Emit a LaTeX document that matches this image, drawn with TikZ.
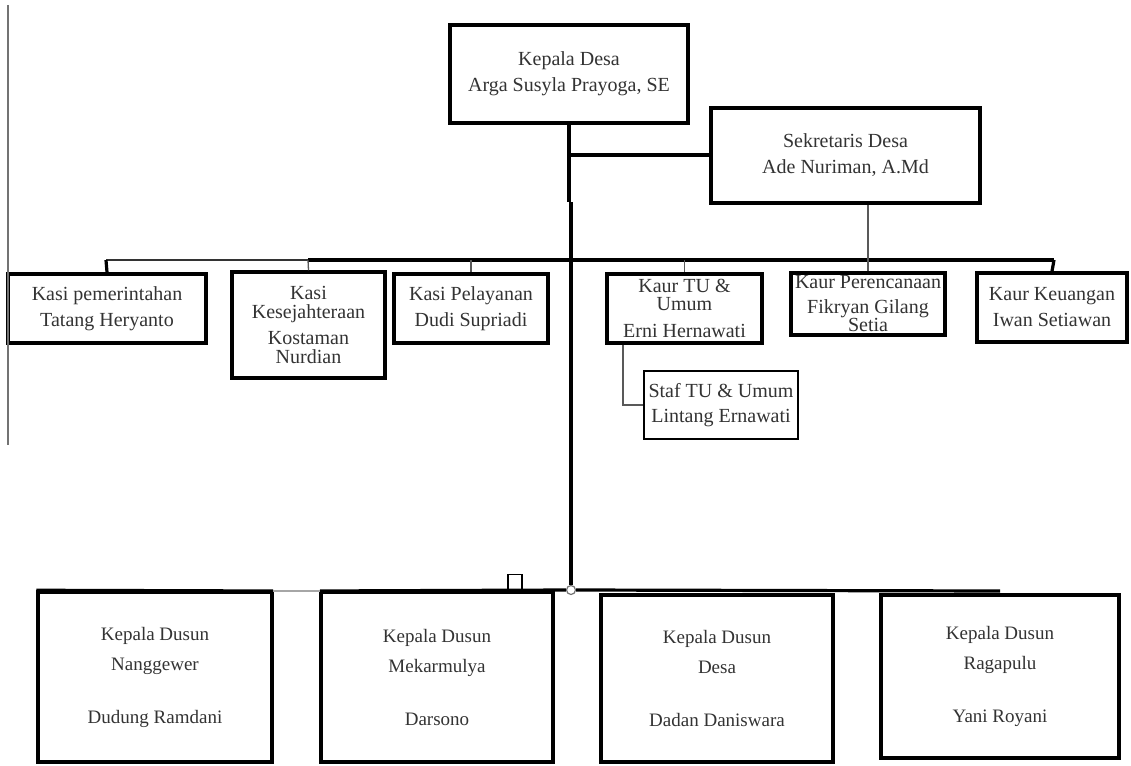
\documentclass[tikz,border=0pt]{standalone}
\usepackage{fontspec}
\setmainfont{Liberation Serif}
\begin{document}
\begin{tikzpicture}[x=1pt,y=-1pt,
  box/.style={draw=black, line width=3.5pt, fill=white, inner sep=0pt, align=center, text=black!80},
  thinbox/.style={box, line width=2.2pt},
  big/.style={font=\fontsize{20}{26}\selectfont},
  tight/.style={font=\fontsize{20}{19}\selectfont},
  dusun/.style={font=\fontsize{19}{30}\selectfont},
  heavy/.style={draw=black, line width=3.2pt},
  light/.style={draw=black!65, line width=1.3pt}]
\useasboundingbox (0,0) rectangle (1131,765);

% top level
\node[box, big, minimum width=238pt, minimum height=98pt] (kd) at (569,74) {Kepala Desa\\Arga Susyla Prayoga, SE};
\node[box, big, minimum width=269pt, minimum height=95pt] (sek) at (845.5,155.5) {Sekretaris Desa\\Ade Nuriman, A.Md};

% second row
\node[box, big, minimum width=198pt, minimum height=69pt] (k1) at (107,308.5) {Kasi pemerintahan\\Tatang Heryanto};
\node[box, tight, minimum width=153pt, minimum height=106pt] (k2) at (308.5,325) {Kasi\\Kesejahteraan\\[7pt]Kostaman\\Nurdian};
\node[box, big, minimum width=154pt, minimum height=69pt] (k3) at (471,308.5) {Kasi Pelayanan\\Dudi Supriadi};
\node[box, font=\fontsize{20}{18}\selectfont, minimum width=155pt, minimum height=69pt] (k4) at (684.5,308.5) {Kaur TU \&\\Umum\\[9pt]Erni Hernawati};
\node[box, font=\fontsize{20}{18}\selectfont, minimum width=154pt, minimum height=62pt] (k5) at (868,304) {Kaur Perencanaan\\[7pt]Fikryan Gilang\\Setia};
\node[box, big, minimum width=150pt, minimum height=69pt] (k6) at (1052,307.5) {Kaur Keuangan\\Iwan Setiawan};
\node[thinbox, font=\fontsize{20}{25}\selectfont, minimum width=154pt, minimum height=68pt] (staf) at (721,405) {Staf TU \& Umum\\Lintang Ernawati};

% bottom row
\node[box, dusun, minimum width=234pt, minimum height=170pt] (d1) at (155,677) {Kepala Dusun\\Nanggewer\\[23pt]Dudung Ramdani};
\node[box, dusun, minimum width=232pt, minimum height=170pt] (d2) at (437,677) {Kepala Dusun\\Mekarmulya\\[23pt]Darsono};
\node[box, dusun, minimum width=232pt, minimum height=167pt] (d3) at (717,678.5) {Kepala Dusun\\Desa\\[23pt]Dadan Daniswara};
\node[box, dusun, minimum width=238pt, minimum height=163pt] (d4) at (1000,676.5) {Kepala Dusun\\Ragapulu\\[23pt]Yani Royani};

% junction points
\coordinate (jSek) at (569,155);
\coordinate (jMid) at (569,202);
\coordinate (jMid2) at (571,202);
\coordinate (jBar) at (571,260);
\coordinate (barL) at (106,260);
\coordinate (barG) at (308,260);
\coordinate (barR) at (1054,260);
\coordinate (sx) at (623,0);
\coordinate (lineEnd) at (1000,591);
\coordinate (lt) at (8,5);
\coordinate (lb) at (8,445);
\coordinate (gapL) at (273,591);
\coordinate (gapR) at (320,591);

\node[circle, draw=black!55, fill=white, line width=1.2pt, minimum size=9pt, inner sep=0pt] (hub) at (571,590) {};
\node[draw=black, line width=1.5pt, minimum width=14pt, minimum height=16pt, inner sep=0pt, anchor=south] (sq) at (515,591) {};

% left margin line
\draw[draw=black!55, line width=1.5pt] (lt) -- (lb);

% Kepala Desa to Sekretaris and trunk
\draw[heavy] (kd.south) -- (jSek) -- (sek.west |- jSek);
\draw[heavy] (jSek) -- (jMid);
\draw[draw=black, line width=4.5pt] (jMid2) -- (jBar);
\draw[heavy] (jBar) -- (hub.north);

% bar of the second row
\draw[draw=black!80, line width=2.6pt] (barL) -- (barG);
\draw[heavy] (barG) -- (barR);
\draw[heavy] (barL) -- (k1.north);
\draw[light] (barG) -- (k2.north);
\draw[light] (k3.north |- jBar) -- (k3.north);
\draw[light] (k4.north |- jBar) -- (k4.north);
\draw[light] (sek.south -| k5.north) -- (k5.north);
\draw[heavy] (barR) -- (k6.north);
\draw[light] (k4.south -| sx) |- (staf.west);

% bottom bar
\draw[heavy] (d1.north west) -- (gapL);
\draw[draw=black!35, line width=2pt] (gapL) -- (gapR);
\draw[heavy] (gapR) -- (hub.west);
\draw[heavy] (hub.east) -- (lineEnd);
\end{tikzpicture}
\end{document}
